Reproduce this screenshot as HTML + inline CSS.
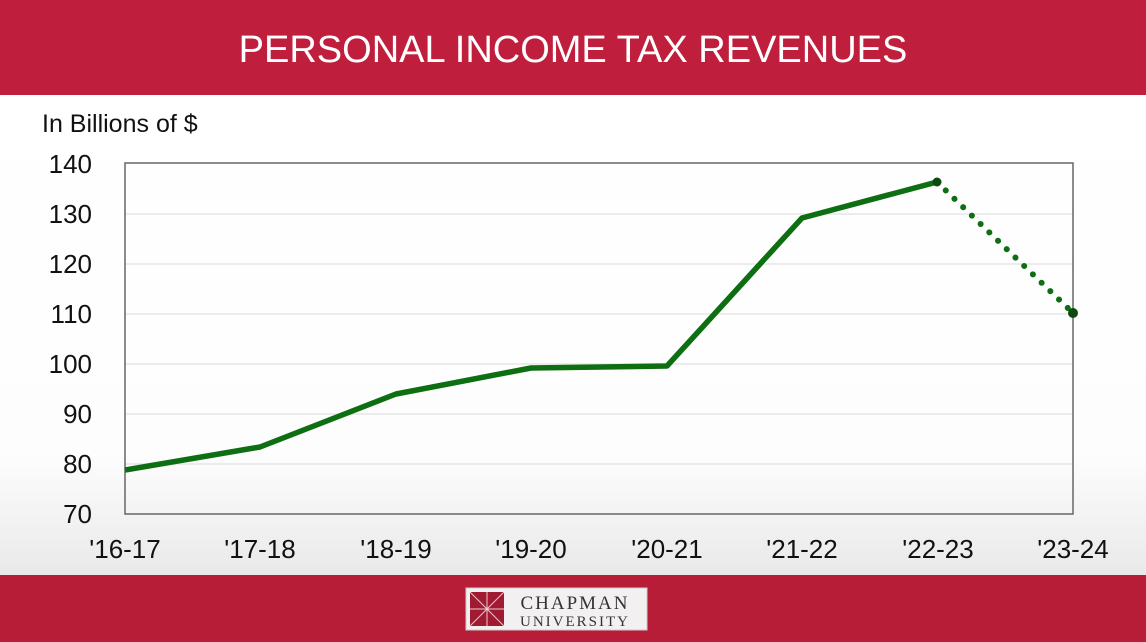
<!DOCTYPE html>
<html><head><meta charset="utf-8"><style>
body{margin:0;width:1146px;height:642px;overflow:hidden;font-family:"Liberation Sans",sans-serif;}
</style></head><body>
<svg width="1146" height="642" xmlns="http://www.w3.org/2000/svg" style="display:block">
<defs>
<linearGradient id="bg" x1="0" y1="0" x2="0" y2="1">
<stop offset="0" stop-color="#ffffff"/><stop offset="0.75" stop-color="#fdfdfd"/><stop offset="1" stop-color="#e9e9e9"/>
</linearGradient>
</defs>
<rect x="0" y="95" width="1146" height="480" fill="url(#bg)"/>
<rect x="0" y="0" width="1146" height="95" fill="#bf1e3c"/>
<rect x="0" y="575" width="1146" height="67" fill="#b81d37"/>
<text x="573" y="62" text-anchor="middle" fill="#fff" font-size="38">PERSONAL INCOME TAX REVENUES</text>
<text x="42" y="132" fill="#111" font-size="25">In Billions of $</text>
<g stroke="#e6e6e6" stroke-width="1.5">
<line x1="125" y1="214" x2="1073" y2="214"/><line x1="125" y1="264" x2="1073" y2="264"/>
<line x1="125" y1="314" x2="1073" y2="314"/><line x1="125" y1="364" x2="1073" y2="364"/>
<line x1="125" y1="414" x2="1073" y2="414"/><line x1="125" y1="464" x2="1073" y2="464"/>
</g>
<rect x="125" y="163" width="948" height="351" fill="none" stroke="#666" stroke-width="1.5"/>
<g font-size="26" fill="#111" text-anchor="end">
<text x="92" y="173">140</text><text x="92" y="223">130</text><text x="92" y="273">120</text>
<text x="92" y="323">110</text><text x="92" y="373">100</text><text x="92" y="423">90</text>
<text x="92" y="473">80</text><text x="92" y="523">70</text>
</g>
<g font-size="26" fill="#111" text-anchor="middle">
<text x="125" y="558">'16-17</text><text x="260" y="558">'17-18</text><text x="396" y="558">'18-19</text>
<text x="531" y="558">'19-20</text><text x="667" y="558">'20-21</text><text x="802" y="558">'21-22</text>
<text x="938" y="558">'22-23</text><text x="1073" y="558">'23-24</text>
</g>
<polyline points="125,470 260,447 396,394 531,368 667,366 802,218 937,182" fill="none" stroke="#0e6e12" stroke-width="5.5" stroke-linejoin="round"/>
<line x1="937" y1="182" x2="1073" y2="313" stroke="#0e6e12" stroke-width="6" stroke-linecap="round" stroke-dasharray="0.1 12"/>
<circle cx="937" cy="182" r="4.5" fill="#0c4a0e"/>
<circle cx="1073" cy="313" r="5" fill="#0c4a0e"/>
<rect x="466" y="588" width="181" height="42" fill="#f2f0f0" stroke="#ccc"/>
<rect x="470" y="592" width="34" height="34" fill="#a01a32"/>
<g stroke="#f0c8d0" stroke-width="1"><line x1="470" y1="592" x2="504" y2="626"/><line x1="504" y1="592" x2="470" y2="626"/><line x1="487" y1="592" x2="487" y2="626"/><line x1="470" y1="609" x2="504" y2="609"/></g>
<text x="575" y="609" text-anchor="middle" font-family="Liberation Serif,serif" font-size="19" fill="#333" letter-spacing="2">CHAPMAN</text>
<text x="575" y="626" text-anchor="middle" font-family="Liberation Serif,serif" font-size="15" fill="#333" letter-spacing="2">UNIVERSITY</text>
</svg>
</body></html>
